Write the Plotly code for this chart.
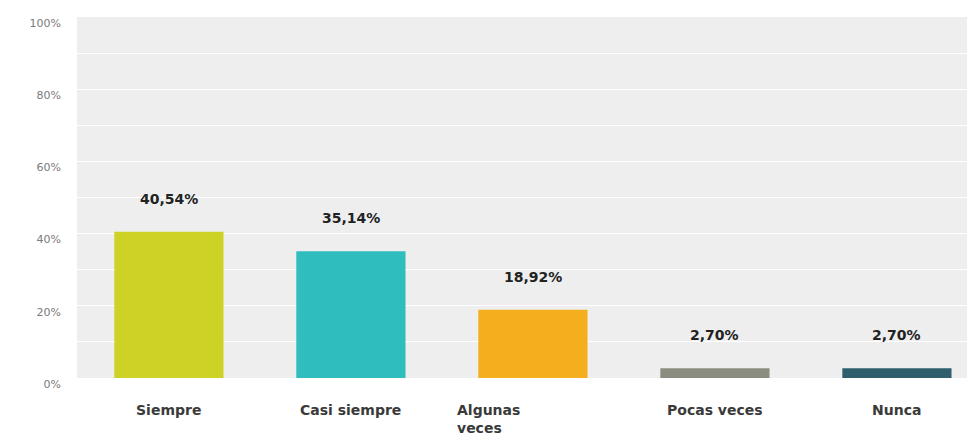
import plotly.graph_objects as go

# Survey answer frequencies (share of respondents)
categories = ["Siempre", "Casi siempre", "Algunas veces", "Pocas veces", "Nunca"]
shares = [0.4054, 0.3514, 0.1892, 0.0270, 0.0270]
value_labels = ["40,54%", "35,14%", "18,92%", "2,70%", "2,70%"]
bar_colors = ["#cdd224", "#30bdbd", "#f5ae1d", "#8b8d80", "#2f5f6c"]
y_tick_values = [0, 0.2, 0.4, 0.6, 0.8, 1.0]
y_tick_labels = ["0%", "20%", "40%", "60%", "80%", "100%"]

font_family = "DejaVu Sans, Verdana, sans-serif"

fig = go.Figure(
    go.Bar(
        x=list(range(len(categories))),
        y=shares,
        marker=dict(color=bar_colors, line=dict(width=0)),
        width=0.6,
        hoverinfo="skip",
    )
)

# Value labels floating above each bar
for i, (v, txt) in enumerate(zip(shares, value_labels)):
    fig.add_annotation(
        x=i, y=v, text=f"<b>{txt}</b>", showarrow=False,
        yshift=33, font=dict(family=font_family, size=14, color="#222222"),
    )

# Category labels under the axis
for i, name in enumerate(categories):
    if name == "Algunas veces":
        fig.add_annotation(
            x=i, y=0, yref="y", text="<b>Algunas<br>veces</b>", showarrow=False,
            xanchor="left", yanchor="top", align="left", xshift=-78, yshift=-22,
            font=dict(family=font_family, size=14, color="#3a3a3a"),
        )
    else:
        fig.add_annotation(
            x=i, y=0, yref="y", text=f"<b>{name}</b>", showarrow=False,
            xanchor="center", yanchor="top", yshift=-22,
            font=dict(family=font_family, size=14, color="#3a3a3a"),
        )

fig.update_layout(
    width=974, height=436,
    margin=dict(l=77, r=7, t=17, b=58),
    paper_bgcolor="white",
    plot_bgcolor="#eeeeee",
    showlegend=False,
    font=dict(family=font_family),
)
fig.update_xaxes(
    range=[-0.505, 4.385], showticklabels=False, showgrid=False,
    zeroline=False, showline=False, ticks="",
)
fig.update_yaxes(
    range=[0, 1.0], tickvals=y_tick_values, ticktext=y_tick_labels,
    tickfont=dict(family=font_family, size=11, color="#7a7a7a"),
    ticklabelshift=6, ticklabelstandoff=15,
    showgrid=True, gridcolor="white", gridwidth=1,
    minor=dict(dtick=0.1, showgrid=True, gridcolor="white", gridwidth=1),
    zeroline=False, showline=False, ticks="",
)

fig.write_html("out.html")
